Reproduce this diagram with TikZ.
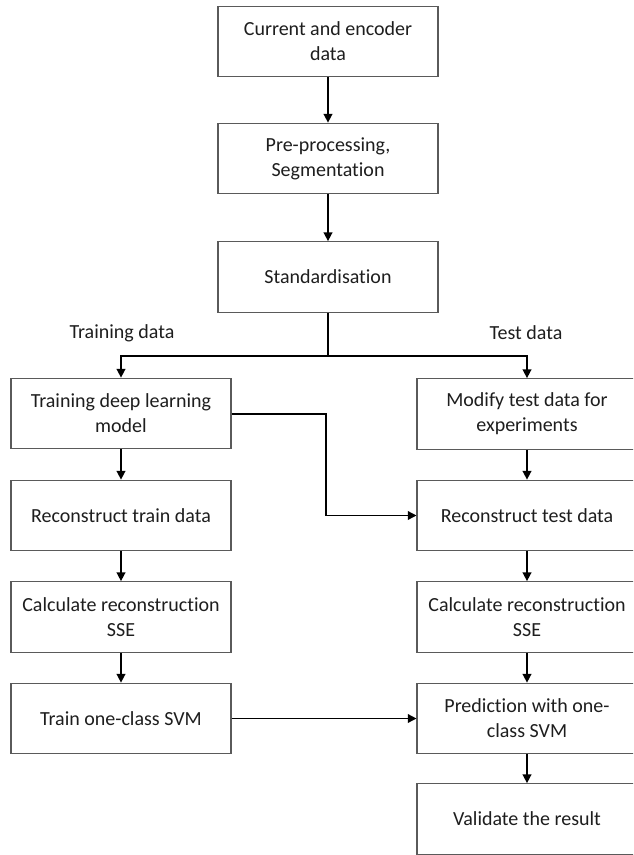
\documentclass[tikz,border=0pt]{standalone}
\usepackage{fontspec}
\setmainfont{Carlito}[RawFeature={-liga;-clig;-calt;-dlig}]
\usetikzlibrary{arrows.meta}
\definecolor{boxgray}{HTML}{5A5A5A}
\definecolor{txt}{HTML}{1E1E1E}
% zero kern that keeps "t" and "i" as separate glyphs
\newcommand\sep{\kern0pt}
\begin{document}
\begin{tikzpicture}[x=0.75pt,y=-0.75pt,
  box/.style={draw=boxgray, line width=0.8pt, minimum width=165pt,
    minimum height=53pt, inner sep=0pt, align=center, text=txt,
    font=\fontsize{15}{18.75}\selectfont},
  lbl/.style={inner sep=0pt, text=txt, font=\fontsize{15}{18.75}\selectfont},
  link/.style={draw=black, line width=1.1pt,
    -{Triangle[length=6.5pt,width=6.5pt]}},
  wire/.style={draw=black, line width=1.1pt}]
\useasboundingbox (0,0) rectangle (633,855);
\clip (0,0) rectangle (633,855);
\fill[white] (0,0) rectangle (633,855);

% main trunk
\node[box] (cur) at (328,41.5) {Current and encoder\\data};
\node[box] (pre) at (328,158.5) {Pre-processing,\\Segmentat\sep ion};
\node[box] (std) at (328,277) {Standardisat\sep ion};

% branch labels
\node[lbl] (trl) at (122,333) {Training data};
\node[lbl] (tel) at (526,333) {Test data};

% training column
\node[box] (tdl) at (121,413.5) {Training deep learning\\model};
\node[box] (rtr) at (121,515.5) {Reconstruct train data};
\node[box] (ctr) at (121,617) {Calculate reconstruct\sep ion\\SSE};
\node[box] (svm) at (121,718.5) {Train one-class SVM};

% test column
\node[box] (mod) at (527,414) {Modify test data for\\experiments};
\node[box] (rte) at (527,515.5) {Reconstruct test data};
\node[box] (cte) at (527,617) {Calculate reconstruct\sep ion\\SSE};
\node[box] (pre2) at (527,718.5) {Predict\sep ion with one-\\class SVM};
\node[box] (val) at (527,819) {Validate the result};

\coordinate (split) at (328,356);

% connectors
\draw[link] (cur) -- (pre);
\draw[link] (pre) -- (std);
\draw[wire] (std) -- (split);
\draw[link] (split) -| (tdl.north);
\draw[link] (split) -| (mod.north);
\draw[link] (tdl) -- (rtr);
\draw[link] (rtr) -- (ctr);
\draw[link] (ctr) -- (svm);
\draw[link] (mod) -- (rte);
\draw[link] (rte) -- (cte);
\draw[link] (cte) -- (pre2);
\draw[link] (pre2) -- (val);
\draw[link] (tdl.east |- 0,414) -| (326,470) |- (rte.west);
\draw[link] (svm) -- (pre2);
\end{tikzpicture}
\end{document}
